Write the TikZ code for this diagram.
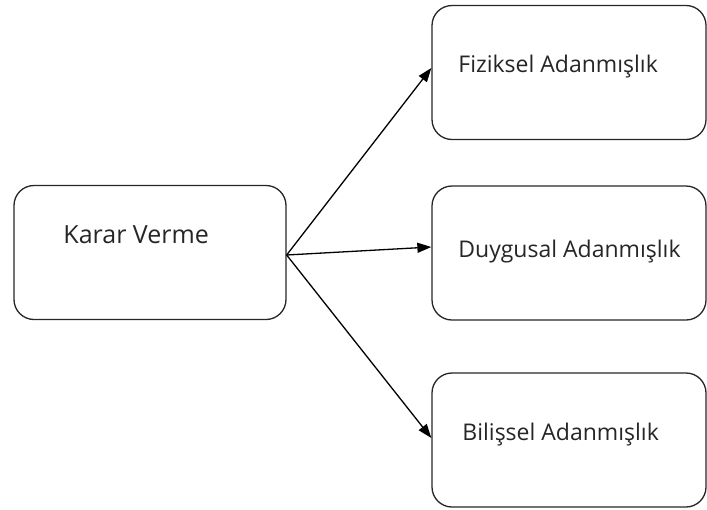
\documentclass[tikz,border=0pt]{standalone}
\usepackage{fontspec}
\setmainfont{Open Sans}
\usetikzlibrary{arrows.meta,calc}

\begin{document}
\begin{tikzpicture}[x=1pt, y=-1pt, thick,
                    box/.style={draw=black!85, line width=1.3pt, rounded corners=20pt,
                                minimum width=272pt, minimum height=134pt},
                    txt/.style={anchor=base west, inner sep=0pt, font=\fontsize{23}{26}\selectfont, text=black!85},
                    link/.style={line width=1.3pt, -{Triangle[length=14pt,width=10pt]}}]
  \useasboundingbox (0,0) rectangle (707,509);

  \node[box] (karar) at (150,252.5) {};
  \node[box, minimum width=274pt] (fiz) at (569,72.5) {};
  \node[box, minimum width=274pt] (duy) at (569,253) {};
  \node[box, minimum width=274pt] (bil) at (569,440) {};

  \node[txt, font=\fontsize{25}{28}\selectfont] (t1) at (63,243) {Karar Verme};
  \node[txt] (t2) at (458,72) {Fiziksel Adanmışlık};
  \node[txt] (t3) at (458,257) {Duygusal Adanmışlık};
  \node[txt] (t4) at (462,440) {Bilişsel Adanmışlık};

  \coordinate (src) at ($(karar.east)+(0,2.5)$);
  \draw[link] (src) -- ($(fiz.west)+(0,-4.5)$);
  \draw[link] (src) -- ($(duy.west)+(0,-6)$);
  \draw[link] (src) -- ($(bil.west)+(0,-2)$);
\end{tikzpicture}
\end{document}
